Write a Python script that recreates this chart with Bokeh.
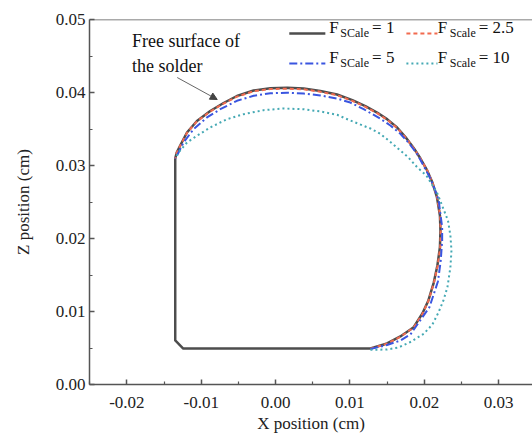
from bokeh.plotting import figure
from bokeh.models import (FixedTicker, NumeralTickFormatter, Span, Label, Arrow,
                          NormalHead, Range1d)
from bokeh.embed import file_html
from bokeh.resources import INLINE

# ---------------- data (cm) ----------------
# F_Scale = 1 : full solder outline (pad edge + free surface)
x_f1 = [-0.0135, -0.0135, -0.01242, 0.01248,
        0.01275, 0.01499, 0.01678, 0.01857, 0.01974, 0.02055, 0.02127, 0.02176,
        0.0221, 0.02217, 0.0221, 0.0217, 0.02109, 0.02038, 0.01948, 0.01857,
        0.01746, 0.01634, 0.01503, 0.01365, 0.01207, 0.01032, 0.00826, 0.00602,
        0.00377, 0.00157, -0.00071, -0.00296, -0.0052, -0.007, -0.00879, -0.01058,
        -0.01192, -0.01283, -0.0133, -0.0135]
z_f1 = [0.03096, 0.00603, 0.00493, 0.00493,
        0.00493, 0.00562, 0.00658, 0.00785, 0.00973, 0.01151, 0.01397, 0.0163,
        0.01881, 0.0211, 0.02315, 0.02566, 0.02767, 0.02932, 0.03096, 0.0324,
        0.0339, 0.03521, 0.03632, 0.03725, 0.03812, 0.03895, 0.03973, 0.04021,
        0.04055, 0.04064, 0.04059, 0.04027, 0.03952, 0.03856, 0.03747, 0.0361,
        0.03452, 0.03274, 0.03178, 0.03096]

# F_Scale = 2.5 : free surface
x_f25 = [0.01275, 0.01500, 0.01680, 0.01858, 0.01976, 0.02057, 0.02130, 0.02180,
         0.02214, 0.02220, 0.02212, 0.02172, 0.02110, 0.02040, 0.01950, 0.01858,
         0.01746, 0.01634, 0.01503, 0.01365, 0.01207, 0.01032, 0.00826, 0.00602,
         0.00377, 0.00157, -0.00071, -0.00296, -0.0052, -0.007, -0.00879, -0.01058,
         -0.01192, -0.01283, -0.0133, -0.0135]
z_f25 = [0.00490, 0.00560, 0.00655, 0.00782, 0.00970, 0.01150, 0.01397, 0.01630,
         0.01881, 0.02110, 0.02315, 0.02566, 0.02765, 0.02930, 0.03093, 0.03236,
         0.03385, 0.03515, 0.03625, 0.03717, 0.03804, 0.03886, 0.03963, 0.04010,
         0.04044, 0.04053, 0.04048, 0.04017, 0.03943, 0.03848, 0.03740, 0.03604,
         0.03447, 0.03270, 0.03175, 0.03096]

# F_Scale = 5 : free surface
x_f5 = [0.01275, 0.01499, 0.01678, 0.01813, 0.01925, 0.02069, 0.02183, 0.02221,
        0.0224, 0.0224, 0.0221, 0.02194, 0.02136, 0.02082, 0.01988, 0.01903,
        0.01786, 0.01678, 0.01544, 0.01409, 0.01184, 0.01005, 0.00826, 0.00602,
        0.00377, 0.00153, -0.00071, -0.00296, -0.0052, -0.00744, -0.00923,
        -0.01104, -0.01238, -0.01327, -0.0135]
z_f5 = [0.00486, 0.00541, 0.00603, 0.00685, 0.00849, 0.01059, 0.01411, 0.01699,
        0.01973, 0.02155, 0.02384, 0.02521, 0.02685, 0.02822, 0.03, 0.0316,
        0.03315, 0.03434, 0.03548, 0.0364, 0.03772, 0.03862, 0.03918, 0.03959,
        0.03986, 0.03997, 0.0399, 0.03955, 0.03886, 0.03771, 0.03658,
        0.03497, 0.03315, 0.03133, 0.03096]

# F_Scale = 10 : free surface
x_f10 = [0.01275, 0.01499, 0.01651, 0.01813, 0.01992, 0.02109, 0.0219, 0.02257,
         0.02311, 0.02351, 0.02365, 0.02351, 0.02318, 0.02176, 0.02028, 0.01903,
         0.01786, 0.01678, 0.01544, 0.01409, 0.01275, 0.01005, 0.00826, 0.00602,
         0.00377, 0.00108, -0.00162, -0.00431, -0.00654, -0.00879, -0.01058,
         -0.01192, -0.01306, -0.01336]
z_f10 = [0.00475, 0.00479, 0.00507, 0.00582, 0.00695, 0.00822, 0.00986, 0.01151,
         0.01333, 0.01607, 0.01836, 0.02041, 0.02247, 0.02616, 0.02863, 0.02977,
         0.0311, 0.03205, 0.03322, 0.03434, 0.03507, 0.03616, 0.03695, 0.0374,
         0.03771, 0.03781, 0.03758, 0.03703, 0.03634, 0.03521, 0.03407,
         0.03315, 0.03178, 0.03123]

x_ticks = [-0.02, -0.01, 0.00, 0.01, 0.02, 0.03]
x_minor = [-0.025, -0.015, -0.005, 0.005, 0.015, 0.025]
y_ticks = [0.00, 0.01, 0.02, 0.03, 0.04, 0.05]
y_minor = [0.005, 0.015, 0.025, 0.035, 0.045]

FONT = "'Liberation Serif', serif"
AX = "#555555"

p = figure(width=532, height=438, x_range=Range1d(-0.02503, 0.03455),
           y_range=Range1d(0, 0.05), output_backend="svg", toolbar_location=None,
           min_border_left=89, min_border_right=0, min_border_top=19,
           min_border_bottom=54)
p.grid.visible = False
p.outline_line_color = None
p.background_fill_color = "white"

for ax in (p.xaxis[0], p.yaxis[0]):
    ax.axis_line_color = AX
    ax.axis_line_width = 1.5
    ax.major_tick_line_color = AX
    ax.minor_tick_line_color = AX
    ax.major_tick_line_width = 1.5
    ax.minor_tick_line_width = 1.2
    ax.major_tick_in = 5
    ax.major_tick_out = 0
    ax.minor_tick_in = 3
    ax.minor_tick_out = 0
    ax.major_label_text_font = FONT
    ax.major_label_text_font_size = "17px"
    ax.major_label_text_color = "#222222"
    ax.axis_label_text_font = FONT
    ax.axis_label_text_font_size = "17px"
    ax.axis_label_text_font_style = "normal"
    ax.axis_label_text_color = "#222222"
    ax.formatter = NumeralTickFormatter(format="0.00")

p.xaxis.ticker = FixedTicker(ticks=x_ticks, minor_ticks=x_minor)
p.yaxis.ticker = FixedTicker(ticks=y_ticks, minor_ticks=y_minor)
p.xaxis.axis_label = "X position (cm)"
p.yaxis.axis_label = "Z position (cm)"
p.xaxis.major_label_standoff = 12
p.xaxis.axis_label_standoff = 3
p.yaxis.major_label_standoff = 4
p.yaxis.axis_label_standoff = 20

# top frame line
p.add_layout(Span(location=0.05, dimension="width", line_color=AX, line_width=1.5))

C1, C25, C5, C10 = "#4d4d4d", "#f26a4f", "#3a55e0", "#45a9b4"

p.line(x_f1, z_f1, line_color=C1, line_width=2.5)
p.line(x_f25, z_f25, line_color=C25, line_width=2, line_dash="4 3")
p.line(x_f5, z_f5, line_color=C5, line_width=2, line_dash="8 3 2 3")
p.line(x_f10, z_f10, line_color=C10, line_width=2, line_dash="2 3")

# ---- legend (manual, for subscripts) ----
legend_rows = [
    (0.04808, [(C1, None, "SCale", "= 1"), (C25, "4 3", "Scale", "= 2.5")]),
    (0.04397, [(C5, "8 3 2 3", "SCale", "= 5"), (C10, "2 3", "Scale", "= 10")]),
]
col_x = [(0.00184, 0.00669, 0.00721, 0.00871, 0.01297),
         (0.01759, 0.02177, 0.02180, 0.02342, 0.02732)]
for yrow, items in legend_rows:
    for (col, dash, sub, rest), (lx0, lx1, fx, sx, rx) in zip(items, col_x):
        kw = dict(line_color=col, line_width=2.5 if dash is None else 2)
        if dash is not None:
            kw["line_dash"] = dash
        p.line([lx0, lx1], [yrow, yrow], **kw)
        base = yrow - 0.0005
        p.add_layout(Label(x=fx, y=base, text="F", text_font=FONT,
                           text_font_size="17px", text_color="#111111"))
        p.add_layout(Label(x=sx, y=base - 0.00035, text=sub, text_font=FONT,
                           text_font_size="12px", text_color="#111111"))
        p.add_layout(Label(x=rx, y=base, text=rest, text_font=FONT,
                           text_font_size="17px", text_color="#111111"))

# ---- annotation ----
p.add_layout(Label(x=-0.0193, y=0.04575, text="Free surface of", text_font=FONT,
                   text_font_size="18px", text_color="#111111"))
p.add_layout(Label(x=-0.0193, y=0.04226, text="the solder", text_font=FONT,
                   text_font_size="18px", text_color="#111111"))
p.add_layout(Arrow(x_start=-0.01323, y_start=0.04205, x_end=-0.00785, y_end=0.03904,
                   line_color="#666666", line_width=1,
                   end=NormalHead(size=7, fill_color="#444444", line_color="#444444")))

open("out.html", "w").write(file_html(p, INLINE))
